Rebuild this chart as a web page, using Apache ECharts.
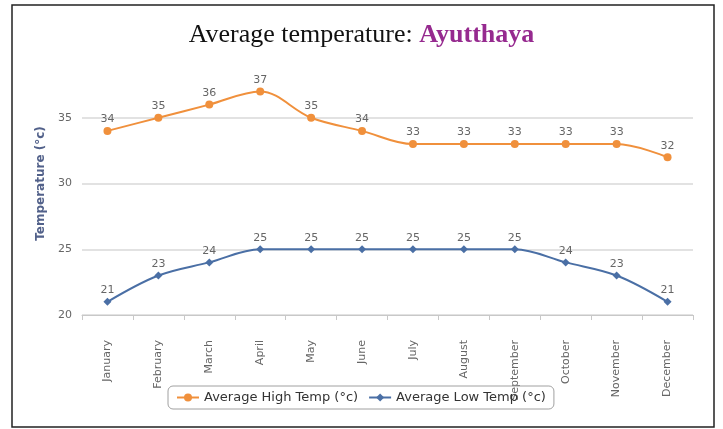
<!DOCTYPE html>
<html>
<head>
<meta charset="utf-8">
<script src="https://cdn.jsdelivr.net/npm/echarts@6/dist/echarts.min.js"></script>
<style>
  html, body { margin: 0; padding: 0; background: #fff; }
  #chart { width: 723px; height: 429px; }
</style>
</head>
<body>
<div id="chart"></div>
<script>
const months = ['January', 'February', 'March', 'April', 'May', 'June',
  'July', 'August', 'September', 'October', 'November', 'December']
const highTemp = [34, 35, 36, 37, 35, 34, 33, 33, 33, 33, 33, 32]
const lowTemp = [21, 23, 24, 25, 25, 25, 25, 25, 25, 24, 23, 21]
const yTicks = [20, 25, 30, 35, 40]

const chart = echarts.init(document.getElementById('chart'))

const labelStyle = {
  show: true,
  position: 'top',
  distance: 2,
  color: '#666',
  fontSize: 11,
  fontFamily: 'DejaVu Sans'
}

const option = {
  animation: false,
  title: {
    text: '{a|Average temperature: }{b|Ayutthaya}',
    left: 'center',
    top: 17,
    textStyle: {
      rich: {
        a: { fontFamily: 'Liberation Serif', fontSize: 26, fontWeight: 'normal', color: '#111' },
        b: { fontFamily: 'Liberation Serif', fontSize: 26, fontWeight: 'bold', color: '#962a8f' }
      }
    }
  },
  graphic: [{
    type: 'rect',
    shape: { x: 12, y: 5, width: 702, height: 422 },
    style: { fill: 'none', stroke: '#222', lineWidth: 1.5 },
    silent: true
  }],
  legend: {
    left: 168,
    top: 386,
    padding: [5, 8],
    itemGap: 10,
    itemWidth: 22,
    itemHeight: 10,
    borderColor: '#a0a0a0',
    borderWidth: 1,
    borderRadius: 5,
    textStyle: { color: '#333', fontSize: 13, fontFamily: 'DejaVu Sans' },
    data: ['Average High Temp (°c)', 'Average Low Temp (°c)']
  },
  grid: { left: 82, right: 30, top: 52, bottom: 114 },
  xAxis: {
    type: 'category',
    data: months,
    boundaryGap: true,
    axisLine: { lineStyle: { color: '#c8c8c8' } },
    axisTick: { show: true, length: 5, lineStyle: { color: '#c8c8c8' } },
    axisLabel: {
      rotate: 90,
      margin: 25,
      color: '#666',
      fontSize: 11,
      fontFamily: 'DejaVu Sans',
      interval: 0
    }
  },
  yAxis: {
    type: 'value',
    min: yTicks[0],
    max: yTicks[yTicks.length - 1],
    interval: 5,
    name: 'Temperature (°c)',
    nameLocation: 'middle',
    nameGap: 35,
    nameTextStyle: { color: '#52618a', fontSize: 12, fontWeight: 'bold', fontFamily: 'DejaVu Sans' },
    axisLine: { show: false },
    axisTick: { show: false },
    axisLabel: {
      color: '#666',
      fontSize: 11,
      margin: 10,
      fontFamily: 'DejaVu Sans',
      showMaxLabel: false
    },
    splitLine: {
      lineStyle: {
        color: ['#d8d8d8', '#d8d8d8', '#d8d8d8', '#d8d8d8', 'rgba(0,0,0,0)'],
        width: 1.5
      }
    }
  },
  series: [
    {
      name: 'Average High Temp (°c)',
      type: 'line',
      smooth: 0.35,
      data: highTemp,
      symbol: 'circle',
      symbolSize: 8,
      itemStyle: { color: '#f0903c' },
      lineStyle: { width: 2 },
      label: labelStyle
    },
    {
      name: 'Average Low Temp (°c)',
      type: 'line',
      smooth: 0.35,
      data: lowTemp,
      symbol: 'diamond',
      symbolSize: 8,
      itemStyle: { color: '#4a6fa5' },
      lineStyle: { width: 2 },
      label: labelStyle
    }
  ]
}

chart.setOption(option)
</script>
</body>
</html>
